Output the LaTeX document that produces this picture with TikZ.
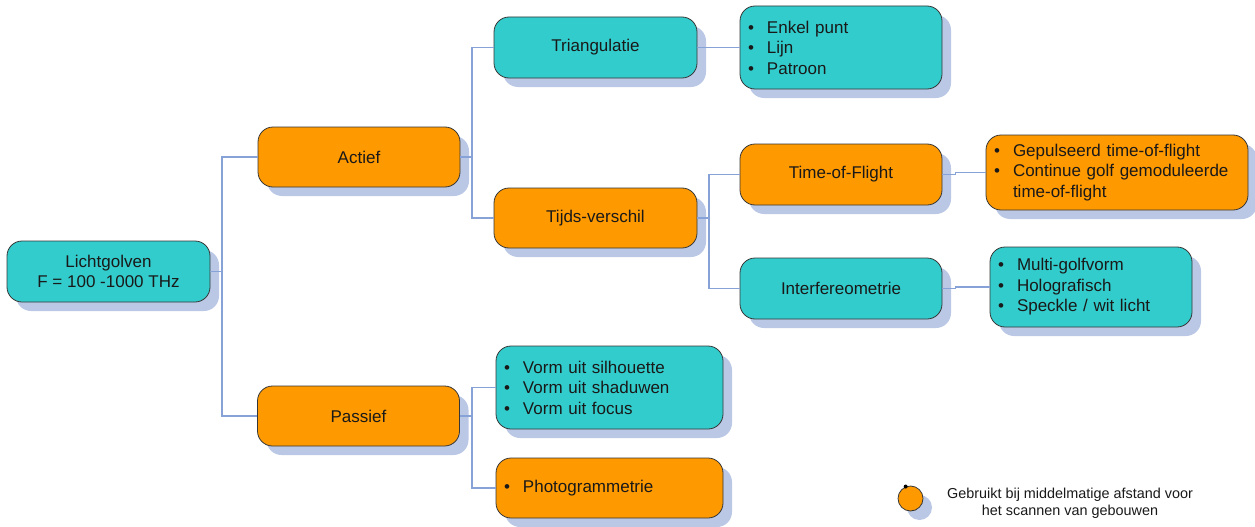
\documentclass[tikz,border=0pt]{standalone}
\usepackage{fontspec}
\setmainfont{Liberation Sans}
\usetikzlibrary{shadows}
\definecolor{tealc}{RGB}{51,204,204}
\definecolor{orangec}{RGB}{255,153,0}
\definecolor{shadowc}{RGB}{186,200,230}
\definecolor{linkc}{RGB}{135,162,214}
\definecolor{edgec}{RGB}{55,55,55}
\definecolor{textc}{RGB}{25,25,25}
\newcommand{\bl}[1]{\makebox[19pt][l]{\textbullet}#1}
\newcommand{\blindent}{\hspace*{19pt}}
\tikzset{
  box/.style={rectangle, rounded corners=15pt, draw=edgec, line width=0.8pt,
    text=textc, inner sep=0pt, align=center,
    font=\fontsize{17}{20.5}\selectfont,
    drop shadow={shadow xshift=9pt, shadow yshift=-9pt, fill=shadowc, opacity=1}},
  listbox/.style={box, align=left, inner xsep=8pt, inner ysep=0pt},
  teal/.style={fill=tealc},
  orng/.style={fill=orangec},
  link/.style={draw=linkc, line width=1.1pt},
}
\begin{document}
\begin{tikzpicture}[x=1pt, y=-1pt]
\useasboundingbox (0,0) rectangle (1255,527);
% nodes
\node[box, teal, minimum width=203, minimum height=61] (L) at (108.5,271.5) {Lichtgolven\\F = 100 -1000 THz};
\node[box, orng, minimum width=202, minimum height=60] (A) at (359,157) {Actief};
\node[box, orng, minimum width=202, minimum height=60] (P) at (358.5,416) {Passief};
\node[box, teal, minimum width=203, minimum height=61] (T) at (595.5,47.5) {Triangulatie};
\node[box, orng, minimum width=203, minimum height=60] (TV) at (595.5,218) {Tijds-verschil};
\node[listbox, teal, text width=186, minimum height=83] (E) at (841,47.5) {\bl{Enkel punt}\\\bl{Lijn}\\\bl{Patroon}};
\node[box, orng, minimum width=202, minimum height=61] (ToF) at (841,174.5) {Time-of-Flight};
\node[box, teal, minimum width=202, minimum height=61] (I) at (841,288.5) {Interfereometrie};
\node[listbox, orng, text width=246, minimum height=75] (G) at (1117,172.5) {\bl{Gepulseerd time-of-flight}\\\bl{Continue golf gemoduleerde}\\\blindent time-of-flight};
\node[listbox, teal, text width=186, minimum height=80] (M) at (1091,287) {\bl{Multi-golfvorm}\\\bl{Holografisch}\\\bl{Speckle / wit licht}};
\node[listbox, teal, text width=211, minimum height=83] (V) at (609.5,387.5) {\bl{Vorm uit silhouette}\\\bl{Vorm uit shaduwen}\\\bl{Vorm uit focus}};
\node[listbox, orng, text width=211, minimum height=60] (Ph) at (609.5,488) {\bl{Photogrammetrie}};
% legend
\node[circle, fill=orangec, draw=edgec, line width=0.8pt, minimum size=25, inner sep=0pt,
  drop shadow={shadow xshift=9pt, shadow yshift=-9pt, fill=shadowc, opacity=1}] (lc) at (910.5,498.5) {};
\node[circle, fill=black, inner sep=0pt, minimum size=4] (ld) at (lc.112) {};
\node[text=textc, align=center, font=\fontsize{14.4}{17}\selectfont] (lt) at (1070,503.5) {Gebruikt bij middelmatige afstand voor\\het scannen van gebouwen};
% junctions
\coordinate (j1) at (222,271.5);
\coordinate (j2) at (472,157);
\coordinate (j3) at (709,218);
\coordinate (j4) at (472,416);
% connectors
\draw[link] (L.east) -- (j1);
\draw[link] (A.west) -| (j1) |- (P.west);
\draw[link] (A.east) -- (j2);
\draw[link] (T.west) -| (j2) |- (TV.west);
\draw[link] (T.east) -- (E.west);
\draw[link] (TV.east) -- (j3);
\draw[link] (ToF.west) -| (j3) |- (I.west);
\draw[link] (ToF.east) -- ++(13,0) |- (G.west);
\draw[link] (I.east) -- ++(13,0) |- (M.west);
\draw[link] (P.east) -- (j4);
\draw[link] (V.west) -| (j4) |- (Ph.west);
\end{tikzpicture}
\end{document}
